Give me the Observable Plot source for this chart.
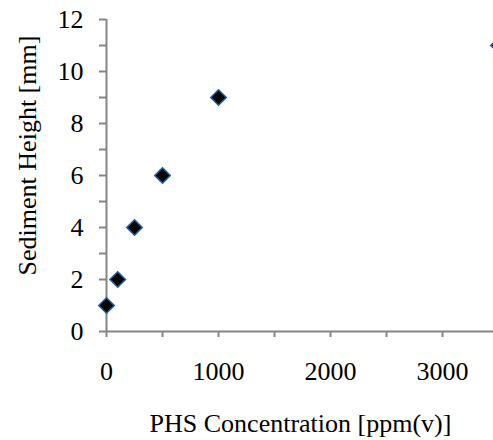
<!DOCTYPE html>
<html><head><meta charset="utf-8">
<script src="https://cdn.jsdelivr.net/npm/d3@7"></script>
<script src="https://cdn.jsdelivr.net/npm/@observablehq/plot@0.6"></script>
<style>body{margin:0;background:#fff}</style>
</head><body><div id="chart"></div>
<script>
const concentration = [0, 100, 250, 500, 1000, 3500];
const sedimentHeight = [1, 2, 4, 6, 9, 11];
const xTicks = [0, 500, 1000, 1500, 2000, 2500, 3000, 3500];
const yTicks = [0,1,2,3,4,5,6,7,8,9,10,11,12];
const xLabel = "PHS Concentration [ppm(v)]";
const yLabel = "Sediment Height [mm]";

const data = concentration.map((c, i) => ({c, h: sedimentHeight[i]}));
const axisColor = "#858585";
const font = "Liberation Serif";

const chart = Plot.plot({
  width: 493, height: 440,
  marginLeft: 106, marginRight: -5, marginTop: 19, marginBottom: 109,
  style: {fontSize: "26px", color: "#000", background: "#fff"},
  x: {domain: [0, 3500]},
  y: {domain: [0, 12]},
  marks: [
    Plot.ruleY([0], {stroke: axisColor, strokeWidth: 2}),
    Plot.ruleX([0], {stroke: axisColor, strokeWidth: 2}),
    Plot.axisX({ticks: xTicks, tickFormat: d => d % 1000 === 0 ? String(d) : "", tickSize: 6, tickPadding: 24, stroke: axisColor, strokeWidth: 2, label: null, fill: "#000"}),
    Plot.axisY({ticks: yTicks, tickFormat: d => d % 2 === 0 ? String(d) : "", tickSize: 7, tickPadding: 16, stroke: axisColor, strokeWidth: 2, label: null, fill: "#000"}),
    Plot.text([xLabel], {frameAnchor: "bottom", textAnchor: "middle", dy: 100, dx: -2, fontSize: 26, fill: "#000"}),
    Plot.text([yLabel], {frameAnchor: "left", textAnchor: "middle", rotate: -90, dx: -79, dy: -20, fontSize: 26, fill: "#000"}),
    Plot.dot(data, {x: "c", y: "h", symbol: "diamond2", r: 7, fill: "#000", stroke: "#1f5f9f", strokeWidth: 1.5})
  ]
});
d3.select(chart).style("font-family", font);
d3.select(chart).selectAll("g").attr("font-size", null);
d3.select(chart).selectAll("text").style("font-family", font).style("font-size", "26px");
document.getElementById("chart").append(chart);
</script></body></html>
